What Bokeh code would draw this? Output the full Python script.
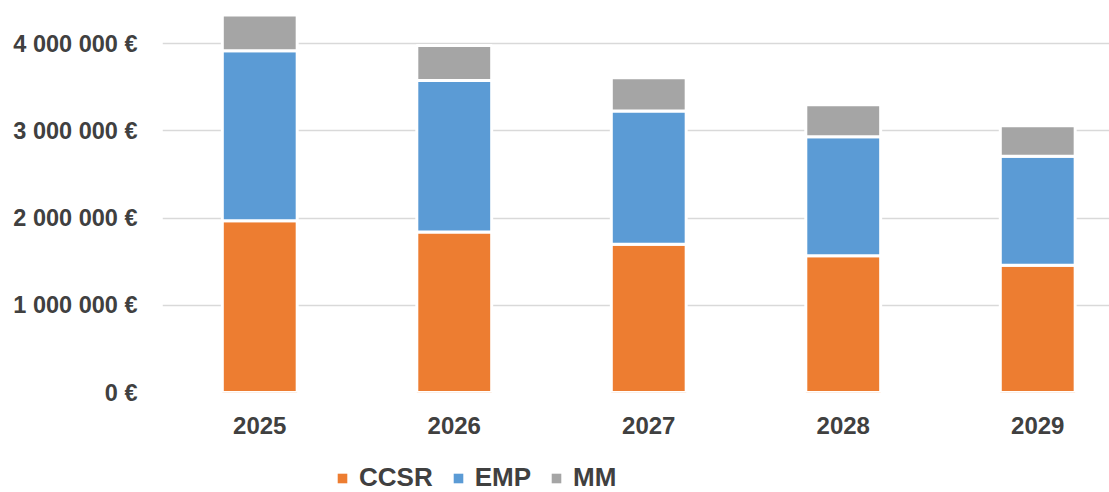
from bokeh.plotting import figure
from bokeh.layouts import column
from bokeh.models import (ColumnDataSource, Range1d, FixedTicker, CustomJSTickFormatter,
                          Legend, LegendItem)
from bokeh.embed import file_html
from bokeh.resources import INLINE

years = [2025, 2026, 2027, 2028, 2029]
ccsr = [1970000, 1840000, 1700000, 1570000, 1460000]
emp = [1950000, 1740000, 1530000, 1365000, 1250000]
mm = [410000, 400000, 380000, 365000, 350000]
series = ["CCSR", "EMP", "MM"]
colors = ["#ED7D31", "#5B9BD5", "#A5A5A5"]
y_ticks = [0, 1000000, 2000000, 3000000, 4000000]

source = ColumnDataSource(dict(year=years, CCSR=ccsr, EMP=emp, MM=mm))

FONT = "Liberation Sans"
TXT = "#404040"

p = figure(width=1109, height=440,
           x_range=Range1d(2024.5, 2029.369), y_range=Range1d(0, 4497000),
           output_backend="svg", toolbar_location=None,
           min_border_left=162, min_border_right=0, min_border_top=0, min_border_bottom=48)
p.outline_line_color = None
p.background_fill_color = "white"
p.border_fill_color = "white"

renderers = p.vbar_stack(series, x="year", width=0.385, color=colors, source=source,
                         line_color="white", line_width=3)

p.xgrid.grid_line_color = None
p.ygrid.grid_line_color = "#D9D9D9"
p.ygrid.grid_line_width = 1.5
p.ygrid.ticker = FixedTicker(ticks=y_ticks)

p.yaxis.ticker = FixedTicker(ticks=y_ticks)
p.yaxis.formatter = CustomJSTickFormatter(code="""
    const s = Math.round(tick).toString().replace(/\\B(?=(\\d{3})+(?!\\d))/g, " ");
    return s + " \u20ac";
""")
p.xaxis.ticker = FixedTicker(ticks=years)

for ax in (p.xaxis, p.yaxis):
    ax.axis_line_color = None
    ax.major_tick_line_color = None
    ax.minor_tick_line_color = None
    ax.major_label_text_font = FONT
    ax.major_label_text_font_style = "bold"
    ax.major_label_text_color = TXT

p.yaxis.major_label_text_font_size = "23.5px"
p.yaxis.major_label_standoff = 19
p.xaxis.major_label_text_font_size = "24px"
p.xaxis.major_label_standoff = 18

# Legend strip below the chart (its frame is aligned with the chart's frame)
leg = figure(width=1109, height=52, x_range=Range1d(0, 1), y_range=Range1d(0, 1),
             output_backend="svg", toolbar_location=None,
             x_axis_location=None, y_axis_location=None,
             min_border_left=0, min_border_right=0, min_border_top=0, min_border_bottom=0)
leg.outline_line_color = None
leg.xgrid.grid_line_color = None
leg.ygrid.grid_line_color = None
# same stacked series, outside this strip's visible range: used only for legend swatches
leg_renderers = leg.vbar_stack(series, x="year", width=0.38, color=colors, source=source,
                               line_color=None)
leg_items = [LegendItem(label=n, renderers=[r]) for n, r in zip(series, leg_renderers)]

legend = Legend(items=leg_items, orientation="horizontal", location=(174, -1),
                label_text_font=FONT, label_text_font_style="bold",
                label_text_font_size="26px", label_text_color=TXT,
                glyph_width=12, glyph_height=12, label_standoff=11, spacing=19,
                padding=0, margin=0, border_line_color=None, background_fill_alpha=0)
leg.add_layout(legend, "center")

layout = column(p, leg, spacing=0)
open("out.html", "w").write(file_html(layout, INLINE))
